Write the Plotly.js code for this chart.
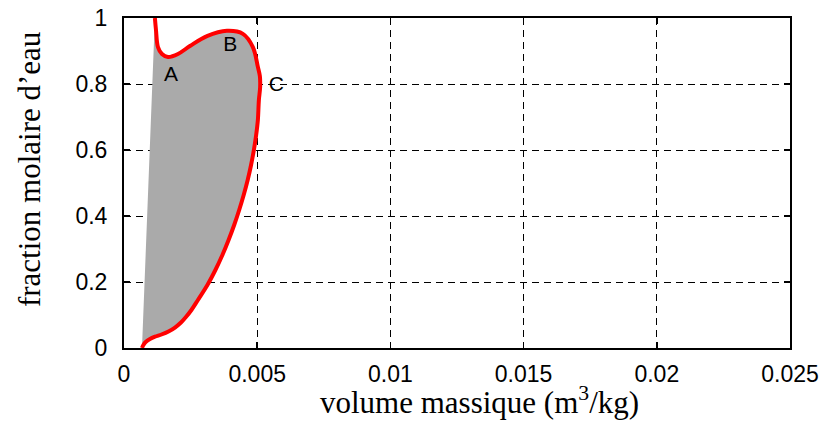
<!DOCTYPE html>
<html>
<head>
<meta charset="utf-8">
<script src="https://cdn.plot.ly/plotly-3.0.1.min.js"></script>
<style>html,body{margin:0;padding:0;background:#fff;}#chart{width:824px;height:423px;}</style>
</head>
<body>
<div id="chart"></div>
<script>
// Curve (volume massique m3/kg, fraction molaire d'eau)
const volume = [0.00116, 0.0012, 0.001275, 0.001425, 0.00165, 0.002025, 0.002475, 0.003113, 0.003863, 0.004463, 0.004838, 0.005025, 0.005100, 0.005110, 0.005063, 0.005025, 0.004961, 0.004875, 0.00477, 0.004643, 0.004493, 0.004324, 0.004136, 0.003926, 0.003694, 0.003431, 0.003131, 0.002775, 0.002531, 0.002325, 0.002138, 0.001913, 0.001669, 0.001406, 0.001163, 0.000975, 0.000825, 0.000731, 0.000675];
const fraction = [1.0, 0.964, 0.912, 0.891, 0.882, 0.891, 0.915, 0.945, 0.961, 0.952, 0.912, 0.852, 0.824, 0.79, 0.7515, 0.6909, 0.6455, 0.6, 0.5545, 0.5091, 0.4636, 0.4182, 0.3727, 0.3273, 0.2818, 0.2364, 0.1909, 0.1455, 0.1152, 0.0939, 0.0773, 0.0621, 0.05, 0.0409, 0.0342, 0.0273, 0.0188, 0.0097, 0.0];
const labelText = ["A", "B", "C"];
const labelX = [0.00176, 0.00399, 0.00572];
const labelY = [0.826, 0.915, 0.794];
const xTicks = [0, 0.005, 0.01, 0.015, 0.02, 0.025];
const xTickText = ["0", "0.005", "0.01", "0.015", "0.02", "0.025"];
const yTicks = [0, 0.2, 0.4, 0.6, 0.8, 1];
const yTickText = ["0", "0.2", "0.4", "0.6", "0.8", "1"];
const xTitle = 'volume massique (m<sup>3</sup>/kg)';
const yTitle = 'fraction molaire d\u2019eau';

const traces = [
  {
    x: volume, y: fraction, type: 'scatter', mode: 'lines',
    fill: 'toself', fillcolor: '#aaaaaa',
    line: {color: 'rgba(0,0,0,0)', width: 0, shape: 'spline'},
    hoverinfo: 'skip', showlegend: false
  },
  {
    x: volume, y: fraction, type: 'scatter', mode: 'lines',
    line: {color: '#ff0000', width: 4, shape: 'spline'},
    showlegend: false
  },
  {
    x: labelX, y: labelY, type: 'scatter', mode: 'text', text: labelText,
    textfont: {family: 'Liberation Sans, Arial, sans-serif', size: 21, color: '#000'},
    showlegend: false, hoverinfo: 'skip'
  }
];

const axisCommon = {
  showline: true, mirror: 'ticks', linecolor: '#000', linewidth: 2,
  ticks: 'inside', ticklen: 6, tickwidth: 1.5, tickcolor: '#000',
  showgrid: true, gridcolor: '#000', gridwidth: 1, griddash: '7px,5px',
  zeroline: false,
  tickfont: {family: 'Liberation Sans, Arial, sans-serif', size: 23, color: '#000'}
};

const titleFont = {family: 'Liberation Serif, Times New Roman, serif', size: 31, color: '#000'};

const layout = {
  width: 824, height: 423,
  margin: {l: 124, r: 34, t: 18, b: 75},
  paper_bgcolor: '#fff', plot_bgcolor: '#fff',
  showlegend: false,
  xaxis: Object.assign({}, axisCommon, {
    range: [0, 0.025], tickvals: xTicks, ticktext: xTickText, ticklabelstandoff: 4
  }),
  yaxis: Object.assign({}, axisCommon, {
    range: [0, 1], tickvals: yTicks, ticktext: yTickText, ticklabelstandoff: 10
  }),
  annotations: [
    {text: xTitle, xref: 'paper', yref: 'paper', x: 0.5345, y: -0.158, xanchor: 'center', yanchor: 'middle', showarrow: false, font: titleFont},
    {text: yTitle, xref: 'paper', yref: 'paper', x: -0.141, y: 0.5394, xanchor: 'center', yanchor: 'middle', textangle: -90, showarrow: false, font: titleFont}
  ]
};

Plotly.newPlot('chart', traces, layout, {displayModeBar: false, staticPlot: true});
</script>
</body>
</html>
